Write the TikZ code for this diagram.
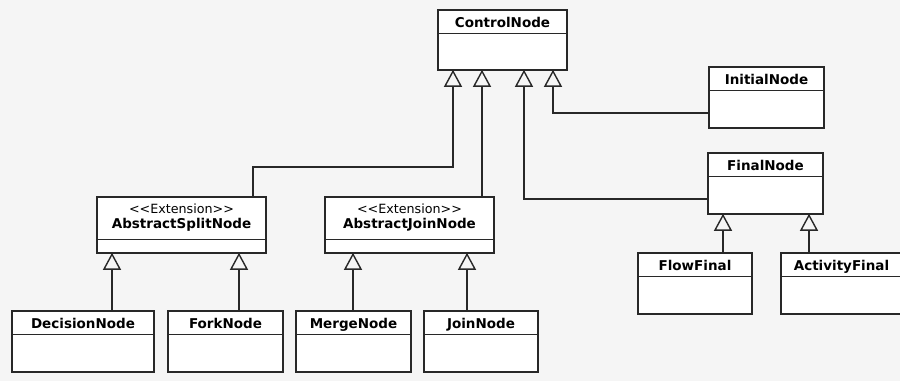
\documentclass[tikz,border=0pt]{standalone}
\usepackage{fontspec}
\usetikzlibrary{shapes.multipart,arrows.meta}
\newfontfamily\umlfont{DejaVu Sans}
\definecolor{paper}{RGB}{245,245,245}
\definecolor{ink}{RGB}{40,40,40}
\newcommand\classname[1]{\rule{0pt}{12pt}\smash{#1}}
\newcommand\classbody[1]{\nodepart{second}\rule{0pt}{#1}}
\newcommand\stereotype[1]{{\mdseries\fontsize{12.7}{15}\selectfont<<#1>>}}
\newcommand\abstracthead[2]{\begin{tabular}{@{}c@{}}\stereotype{#1}\\#2\end{tabular}}
\begin{document}
\begin{tikzpicture}[x=1pt, y=-1pt,
    umlclass/.style={draw=ink, fill=white, line width=1.4pt, rectangle split,
        rectangle split parts=2, anchor=north west, outer sep=0pt,
        inner xsep=0pt, inner ysep=5pt,
        font=\umlfont\bfseries\fontsize{13.5}{15}\selectfont},
    abstractclass/.style={umlclass, inner ysep=5.5pt},
    gen/.style={draw=ink, line width=1.4pt,
        -{Triangle[open, length=17pt, width=18pt]}}]
    \clip (0,0) rectangle (900,381);
    \fill[paper] (0,0) rectangle (900,381);
    \node[umlclass, minimum width=129pt] (ctrl) at (438,10) {\classname{ControlNode}\classbody{25pt}};
    \node[umlclass, minimum width=115pt] (init) at (709,67) {\classname{InitialNode}\classbody{26pt}};
    \node[umlclass, minimum width=115pt] (final) at (708,153) {\classname{FinalNode}\classbody{26pt}};
    \node[umlclass, minimum width=114pt] (ff) at (638,253) {\classname{FlowFinal}\classbody{26pt}};
    \node[umlclass, minimum width=121pt] (af) at (781,253) {\classname{ActivityFinal}\classbody{26pt}};
    \node[abstractclass, minimum width=169pt] (asplit) at (97,197)
        {\abstracthead{Extension}{AbstractSplitNode}\classbody{1pt}};
    \node[abstractclass, minimum width=169pt] (ajoin) at (325,197)
        {\abstracthead{Extension}{AbstractJoinNode}\classbody{1pt}};
    \node[umlclass, minimum width=142pt] (dec) at (12,311) {\classname{DecisionNode}\classbody{26pt}};
    \node[umlclass, minimum width=115pt] (fork) at (168,311) {\classname{ForkNode}\classbody{26pt}};
    \node[umlclass, minimum width=115pt] (merge) at (296,311) {\classname{MergeNode}\classbody{26pt}};
    \node[umlclass, minimum width=114pt] (joinn) at (424,311) {\classname{JoinNode}\classbody{26pt}};
    \coordinate (c1) at ([xshift=15pt]ctrl.south west);
    \coordinate (c2) at ([xshift=44pt]ctrl.south west);
    \coordinate (c3) at ([xshift=86pt]ctrl.south west);
    \coordinate (c4) at ([xshift=115pt]ctrl.south west);
    \coordinate (s1) at ([xshift=15pt]asplit.south west);
    \coordinate (s2) at ([xshift=142pt]asplit.south west);
    \coordinate (j1) at ([xshift=28pt]ajoin.south west);
    \coordinate (j2) at ([xshift=142pt]ajoin.south west);
    \coordinate (f1) at ([xshift=15pt]final.south west);
    \coordinate (f2) at ([xshift=101pt]final.south west);
    \draw[gen] ([xshift=156pt]asplit.north west) -- ++(0,-30) -| (c1);
    \draw[gen] (ajoin.north -| c2) -- (c2);
    \draw[gen] ([yshift=15pt]final.south west) -| (c3);
    \draw[gen] ([yshift=15pt]init.south west) -| (c4);
    \foreach \child/\pt in {dec/s1, fork/s2, merge/j1, joinn/j2, ff/f1, af/f2}
        \draw[gen] (\child.north -| \pt) -- (\pt);
\end{tikzpicture}
\end{document}
